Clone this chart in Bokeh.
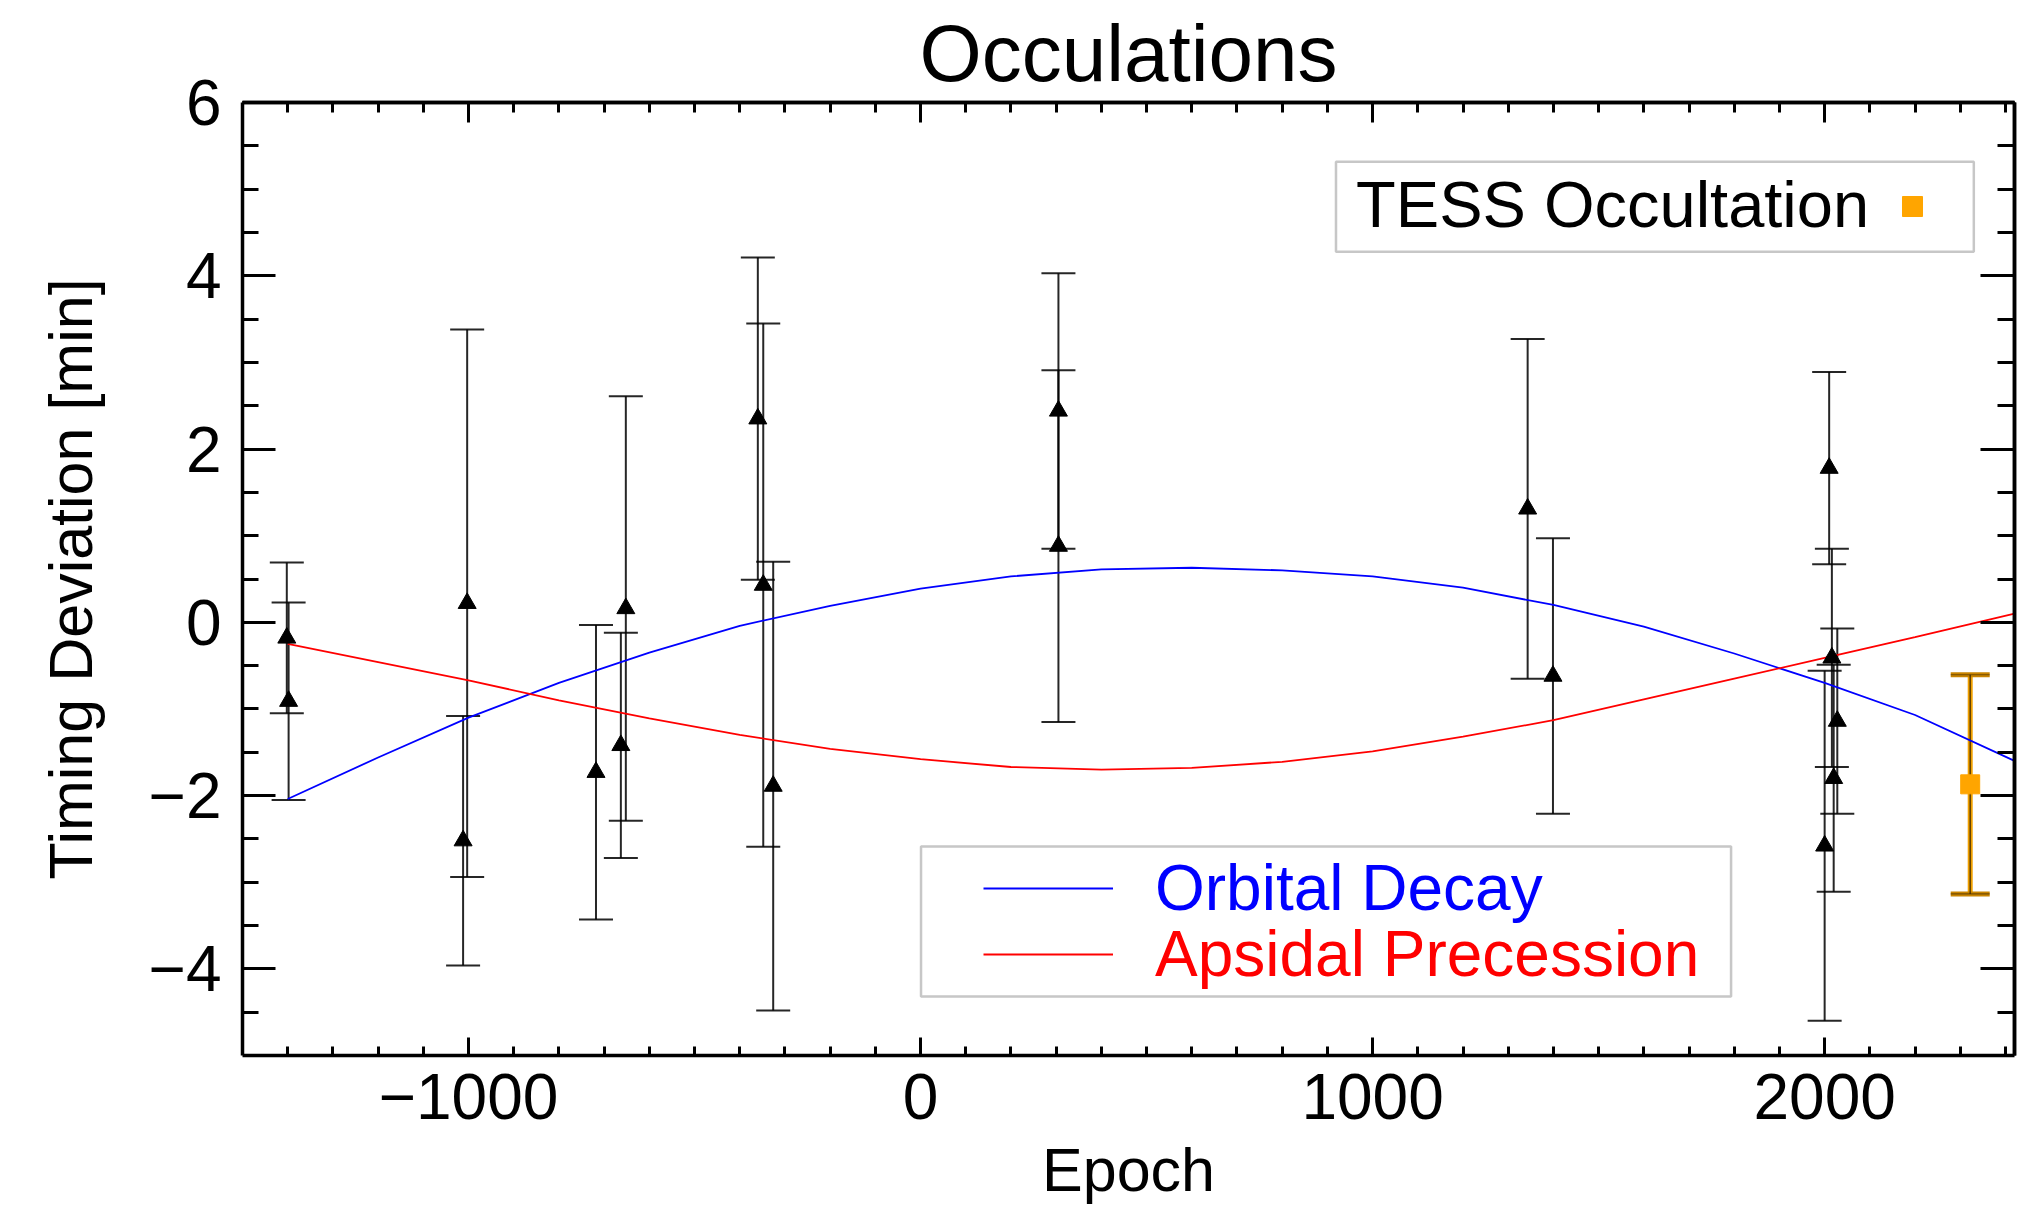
import numpy as np
from bokeh.plotting import figure
from bokeh.models import (ColumnDataSource, Whisker, TeeHead, Range1d, LinearAxis,
                          FixedTicker, BoxAnnotation, Label, Legend, LegendItem)
from bokeh.embed import file_html
from bokeh.resources import INLINE

# ---------------- data ----------------
occ_epoch = [-1402, -1398, -1003, -1012, -718, -652, -663, -360, -348, -326,
             305, 305, 1343, 1399, 2010, 2016, 2028, 2020, 2000]
occ_dev = [-0.18, -0.91, 0.22, -2.52, -1.73, 0.16, -1.42, 2.35, 0.43, -1.89,
           2.44, 0.88, 1.31, -0.62, 1.78, -0.41, -1.14, -1.80, -2.58]
occ_err = [0.87, 1.14, 3.16, 1.44, 1.70, 2.45, 1.30, 1.86, 3.02, 2.59,
           1.59, 2.03, 1.96, 1.59, 1.11, 1.26, 1.07, 1.31, 2.02]

tess_epoch = [2322]
tess_dev = [-1.87]
tess_err = [1.265]

model_epoch = [-1400, -1200, -1000, -800, -600, -400, -200, 0, 200, 400,
               600, 800, 1000, 1200, 1400, 1600, 1800, 2000, 2200, 2420]
decay_dev = [-2.04, -1.56, -1.10, -0.70, -0.35, -0.04, 0.19, 0.39, 0.53, 0.61,
             0.63, 0.60, 0.53, 0.40, 0.20, -0.05, -0.36, -0.70, -1.07, -1.60]
precession_dev = [-0.25, -0.46, -0.67, -0.90, -1.11, -1.30, -1.46, -1.58, -1.67, -1.70,
                  -1.68, -1.61, -1.49, -1.32, -1.13, -0.89, -0.65, -0.41, -0.17, 0.10]

x_major = [-1000, 0, 1000, 2000]
x_labels = ["\u22121000", "0", "1000", "2000"]
x_minor = list(range(-1400, 2401, 100))
y_major = [-4, -2, 0, 2, 4, 6]
y_labels = ["\u22124", "\u22122", "0", "2", "4", "6"]
y_minor = [v / 2 for v in range(-9, 12)]

FONT = "Liberation Sans"

# ---------------- figure ----------------
p = figure(width=2028, height=1206, output_backend="svg", toolbar_location=None,
           x_range=Range1d(-1500, 2420), y_range=Range1d(-5, 6),
           min_border_left=242, min_border_right=14, min_border_top=102,
           min_border_bottom=151, title="Occulations")
p.title.text_font = FONT
p.title.text_font_size = "80px"
p.title.text_font_style = "normal"
p.title.text_color = "black"
p.title.align = "center"
p.title.standoff = 10
p.xgrid.visible = False
p.ygrid.visible = False
p.outline_line_color = None
p.background_fill_color = "white"
p.border_fill_color = "white"


def style_axis(ax, ticks, minor, tlen, mlen, labels):
    ax.ticker = FixedTicker(ticks=ticks, minor_ticks=minor)
    ax.axis_line_width = 3.5
    ax.axis_line_color = "black"
    ax.major_tick_in = tlen
    ax.major_tick_out = 0
    ax.minor_tick_in = mlen
    ax.minor_tick_out = 0
    ax.major_tick_line_width = 3
    ax.minor_tick_line_width = 3
    ax.major_tick_line_color = "black"
    ax.minor_tick_line_color = "black"
    ax.major_label_overrides = {t: s for t, s in zip(ticks, labels)}
    ax.major_label_text_font = FONT
    ax.major_label_text_font_size = "64px"
    ax.major_label_text_color = "black"
    ax.axis_label_text_font = FONT
    ax.axis_label_text_font_size = "61px"
    ax.axis_label_text_font_style = "normal"
    ax.axis_label_text_color = "black"


def mirror_axis(side, positions, length):
    # unlabeled box side: only tick marks, drawn as "minor" ticks
    ax = LinearAxis(ticker=FixedTicker(ticks=[], minor_ticks=positions))
    ax.axis_line_width = 3.5
    ax.axis_line_color = "black"
    ax.major_tick_in = 0
    ax.major_tick_out = 0
    ax.minor_tick_in = length
    ax.minor_tick_out = 0
    ax.minor_tick_line_width = 3
    ax.minor_tick_line_color = "black"
    ax.major_label_standoff = 0
    p.add_layout(ax, side)


xb = p.below[0]
yl = p.left[0]
style_axis(xb, x_major, x_minor, 18, 9, x_labels)
style_axis(yl, y_major, y_minor, 33, 16, y_labels)
xb.axis_label = "Epoch"
yl.axis_label = "Timing Deviation [min]"
xb.major_label_standoff = 18
xb.axis_label_standoff = 14
yl.major_label_standoff = 21
yl.axis_label_standoff = 41

mirror_axis("above", x_minor, 10)
mirror_axis("above", x_major, 20)
mirror_axis("right", y_minor, 17)
mirror_axis("right", y_major, 34)

# ---------------- model curves ----------------
r_decay = p.line(model_epoch, decay_dev, line_color="#0000ff", line_width=1.8)
r_prec = p.line(model_epoch, precession_dev, line_color="#ff0000", line_width=1.8)

# ---------------- occultation error bars ----------------
src = ColumnDataSource(dict(
    x=occ_epoch, y=occ_dev,
    lo=[d - e for d, e in zip(occ_dev, occ_err)],
    hi=[d + e for d, e in zip(occ_dev, occ_err)]))
p.add_layout(Whisker(source=src, base="x", lower="lo", upper="hi", dimension="height",
                     line_color="black", line_width=2, line_alpha=0.85,
                     upper_head=TeeHead(size=34, line_color="black", line_width=2, line_alpha=0.85),
                     lower_head=TeeHead(size=34, line_color="black", line_width=2, line_alpha=0.85)))
p.scatter("x", "y", source=src, marker="triangle", size=18,
          fill_color="black", line_color="black")

tsrc = ColumnDataSource(dict(
    x=tess_epoch, y=tess_dev,
    lo=[d - e for d, e in zip(tess_dev, tess_err)],
    hi=[d + e for d, e in zip(tess_dev, tess_err)]))
p.add_layout(Whisker(source=tsrc, base="x", lower="lo", upper="hi", dimension="height",
                     line_color="#f0a000", line_width=5,
                     upper_head=TeeHead(size=39, line_color="#c98400", line_width=5),
                     lower_head=TeeHead(size=39, line_color="#c98400", line_width=5)))
p.add_layout(Whisker(source=tsrc, base="x", lower="lo", upper="hi", dimension="height",
                     line_color="#3a2600", line_width=1.5, line_alpha=0.8,
                     upper_head=TeeHead(size=39, line_color="#3a2600", line_width=1.2, line_alpha=0.6),
                     lower_head=TeeHead(size=39, line_color="#3a2600", line_width=1.2, line_alpha=0.6)))
r_tess = p.scatter("x", "y", source=tsrc, marker="square", size=19,
                   fill_color="#ffa500", line_color="#ffa500")

# ---------------- legend boxes ----------------
p.add_layout(BoxAnnotation(left=919, right=2330, top=5.316, bottom=4.277,
                           fill_color="white", fill_alpha=1.0,
                           line_color="#444444", line_width=2.5))
p.add_layout(BoxAnnotation(left=1, right=1793, top=-2.588, bottom=-4.319,
                           fill_color="white", fill_alpha=1.0,
                           line_color="#444444", line_width=2.5))

p.add_layout(Label(x=963.5, y=4.82, text="TESS Occultation", text_font=FONT,
                   text_font_size="65px", text_color="black",
                   text_baseline="alphabetic", text_align="left"))


def line_legend(label, rend, color, loc):
    return Legend(items=[LegendItem(label=label, renderers=[rend])], location=loc,
                  glyph_width=130, glyph_height=80, label_height=80, label_standoff=42,
                  padding=0, spacing=0, margin=0, border_line_alpha=0,
                  background_fill_alpha=0, label_text_font=FONT,
                  label_text_font_size="64px", label_text_color=color)


p.add_layout(line_legend("Orbital Decay", r_decay, "#0000ff", (741, 127)))
p.add_layout(line_legend("Apsidal Precession", r_prec, "#ff0000", (741, 61)))

# TESS legend marker (its text is the label above, which sits to its left)
p.add_layout(Legend(items=[LegendItem(label=" ", renderers=[r_tess])], location=(1645, 824),
                    glyph_width=50, glyph_height=50, label_height=50, label_width=0,
                    label_standoff=0, padding=0, spacing=0, margin=0,
                    border_line_alpha=0, background_fill_alpha=0,
                    label_text_font=FONT, label_text_font_size="10px"))

open("out.html", "w").write(file_html(p, INLINE, title="Occulations"))
